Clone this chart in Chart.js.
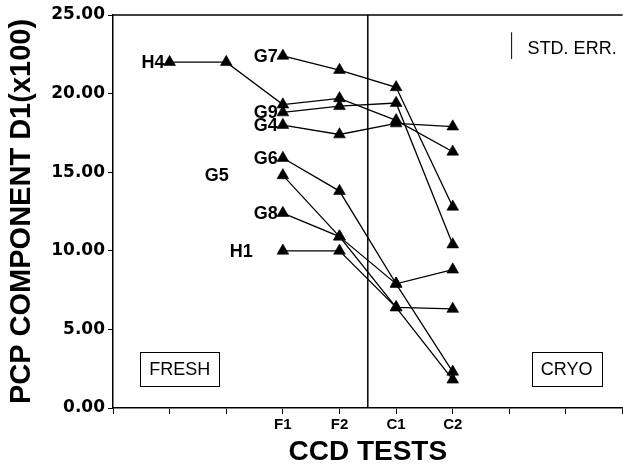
<!DOCTYPE html>
<html><head><meta charset="utf-8">
<script src="https://cdn.jsdelivr.net/npm/chart.js@4/dist/chart.umd.min.js"></script>
<style>html,body{margin:0;padding:0;background:#fff;overflow:hidden}#wrap{width:630px;height:472px}</style>
</head><body><div id="wrap"><canvas id="c" width="630" height="472"></canvas></div>
<script>
// x positions 0..9; CCD test columns sit at 3..6
const tickLabels = ['', '', '', 'F1', 'F2', 'C1', 'C2', '', '', ''];
const seriesNames = ['H4', 'G7', 'G9', 'G4', 'G6', 'G5', 'G8', 'H1'];
// values at x = 1..6
const H4 = [22.0, 22.0, 19.3, 19.7, 18.3, 16.3];
const G7 = [null, null, 22.4, 21.5, 20.4, 12.8];
const G9 = [null, null, 18.8, 19.2, 19.4, 10.4];
const G4 = [null, null, 18.0, 17.4, 18.1, 17.9];
const G6 = [null, null, 15.9, 13.8, 7.9, 8.8];
const G5 = [null, null, 14.8, 10.9, 7.9, 2.3];
const G8 = [null, null, 12.4, 10.9, 6.4, 6.3];
const H1 = [null, null, 10.0, 10.0, 6.4, 1.8];
const dividerX = 4.5;
const stdErrX = 7.04;
const stdErrRange = [22.2, 23.9];
const yTicks = [0, 5, 10, 15, 20, 25];
const groupLabels = ['FRESH', 'CRYO'];
const groupLabelAt = [[1.18, 2.5], [8.01, 2.5]];
const stdErrText = 'STD. ERR.';

const BLACK = '#000';
const seriesValues = [H4, G7, G9, G4, G6, G5, G8, H1];
const labelGap = {G5: 54, H1: 30};

const datasets = seriesValues.map((vals, i) => ({
  label: seriesNames[i],
  data: vals.map((v, j) => v == null ? null : {x: j + 1, y: v}).filter(Boolean),
  borderColor: BLACK, backgroundColor: BLACK, borderWidth: 1.3,
  pointStyle: 'triangle', pointRadius: 6.8, pointBorderWidth: 0.6,
  pointBackgroundColor: BLACK, pointBorderColor: BLACK,
  showLine: true, tension: 0
}));
datasets.push({
  label: 'divider', data: [{x: dividerX, y: 0}, {x: dividerX, y: 25}],
  borderColor: BLACK, borderWidth: 1.5, pointRadius: 0, showLine: true
});
datasets.push({
  label: 'stderr', data: [{x: stdErrX, y: stdErrRange[0]}, {x: stdErrX, y: stdErrRange[1]}],
  borderColor: BLACK, borderWidth: 1, pointRadius: 0, showLine: true
});

const decor = {
  id: 'decor',
  afterDatasetsDraw(chart) {
    const {ctx, chartArea, scales} = chart;
    const xs = scales.x, ys = scales.y;
    ctx.save();
    // top frame line
    ctx.strokeStyle = BLACK; ctx.lineWidth = 1.5;
    ctx.beginPath(); ctx.moveTo(chartArea.left, chartArea.top); ctx.lineTo(chartArea.right, chartArea.top); ctx.stroke();
    // series labels
    ctx.fillStyle = BLACK;
    ctx.font = 'bold 18px "Liberation Sans", Arial, sans-serif';
    ctx.textAlign = 'right'; ctx.textBaseline = 'middle';
    seriesNames.forEach((name, i) => {
      const pt = chart.getDatasetMeta(i).data[0];
      const gap = labelGap[name] || 5;
      ctx.fillText(name, pt.x - gap, pt.y + 1);
    });
    // group boxes
    ctx.font = '18px "Liberation Sans", Arial, sans-serif';
    ctx.textAlign = 'center';
    ctx.lineWidth = 1;
    groupLabels.forEach((t, i) => {
      const cx = xs.getPixelForValue(groupLabelAt[i][0]);
      const cy = ys.getPixelForValue(groupLabelAt[i][1]);
      const w = ctx.measureText(t).width + 18, h = 34;
      ctx.strokeRect(Math.round(cx - w / 2) + 0.5, Math.round(cy - h / 2) + 0.5, Math.round(w), h);
      ctx.fillText(t, cx, cy + 1);
    });
    // std err legend text
    ctx.textAlign = 'left';
    const sx = xs.getPixelForValue(stdErrX) + 16;
    const sy = ys.getPixelForValue((stdErrRange[0] + stdErrRange[1]) / 2) + 3;
    ctx.fillText(stdErrText, sx, sy);
    ctx.restore();
  }
};

new Chart(document.getElementById('c'), {
  type: 'scatter',
  data: {datasets},
  options: {
    responsive: false, animation: false, devicePixelRatio: 1,
    layout: {padding: {top: 15, right: 4, left: 0, bottom: 0}},
    plugins: {legend: {display: false}, tooltip: {enabled: false}},
    scales: {
      x: {
        type: 'linear', min: 0, max: 9,
        afterFit: s => { s.height = 64; },
        afterBuildTicks: s => { s.ticks = tickLabels.map((_, i) => ({value: i})); },
        ticks: {
          autoSkip: false, maxRotation: 0, minRotation: 0, padding: 2, color: BLACK,
          font: {family: '"Liberation Sans", Arial, sans-serif', size: 15, weight: 'bold'},
          callback: v => tickLabels[v] ?? ''
        },
        grid: {drawOnChartArea: false, drawTicks: true, tickLength: 6, color: BLACK, lineWidth: 1},
        border: {display: true, color: BLACK, width: 1.5},
        title: {display: true, text: 'CCD TESTS', color: BLACK,
          font: {family: '"Liberation Sans", Arial, sans-serif', size: 28, weight: 'bold'},
          padding: {top: 0, bottom: 3}}
      },
      y: {
        min: 0, max: 25,
        afterFit: s => { s.width = 113; },
        afterBuildTicks: s => { s.ticks = yTicks.map(v => ({value: v})); },
        ticks: {
          padding: 3, color: BLACK,
          font: {family: '"DejaVu Sans", sans-serif', size: 17, weight: 'bold'},
          callback: v => Number(v).toFixed(2)
        },
        grid: {drawOnChartArea: false, drawTicks: true, tickLength: 5, color: BLACK, lineWidth: 1},
        border: {display: true, color: BLACK, width: 1.5},
        title: {display: true, text: 'PCP COMPONENT D1(x100)', color: BLACK,
          font: {family: '"Liberation Sans", Arial, sans-serif', size: 29, weight: 'bold'},
          padding: {top: 5, bottom: 0}}
      }
    }
  },
  plugins: [decor]
});
</script></body></html>
